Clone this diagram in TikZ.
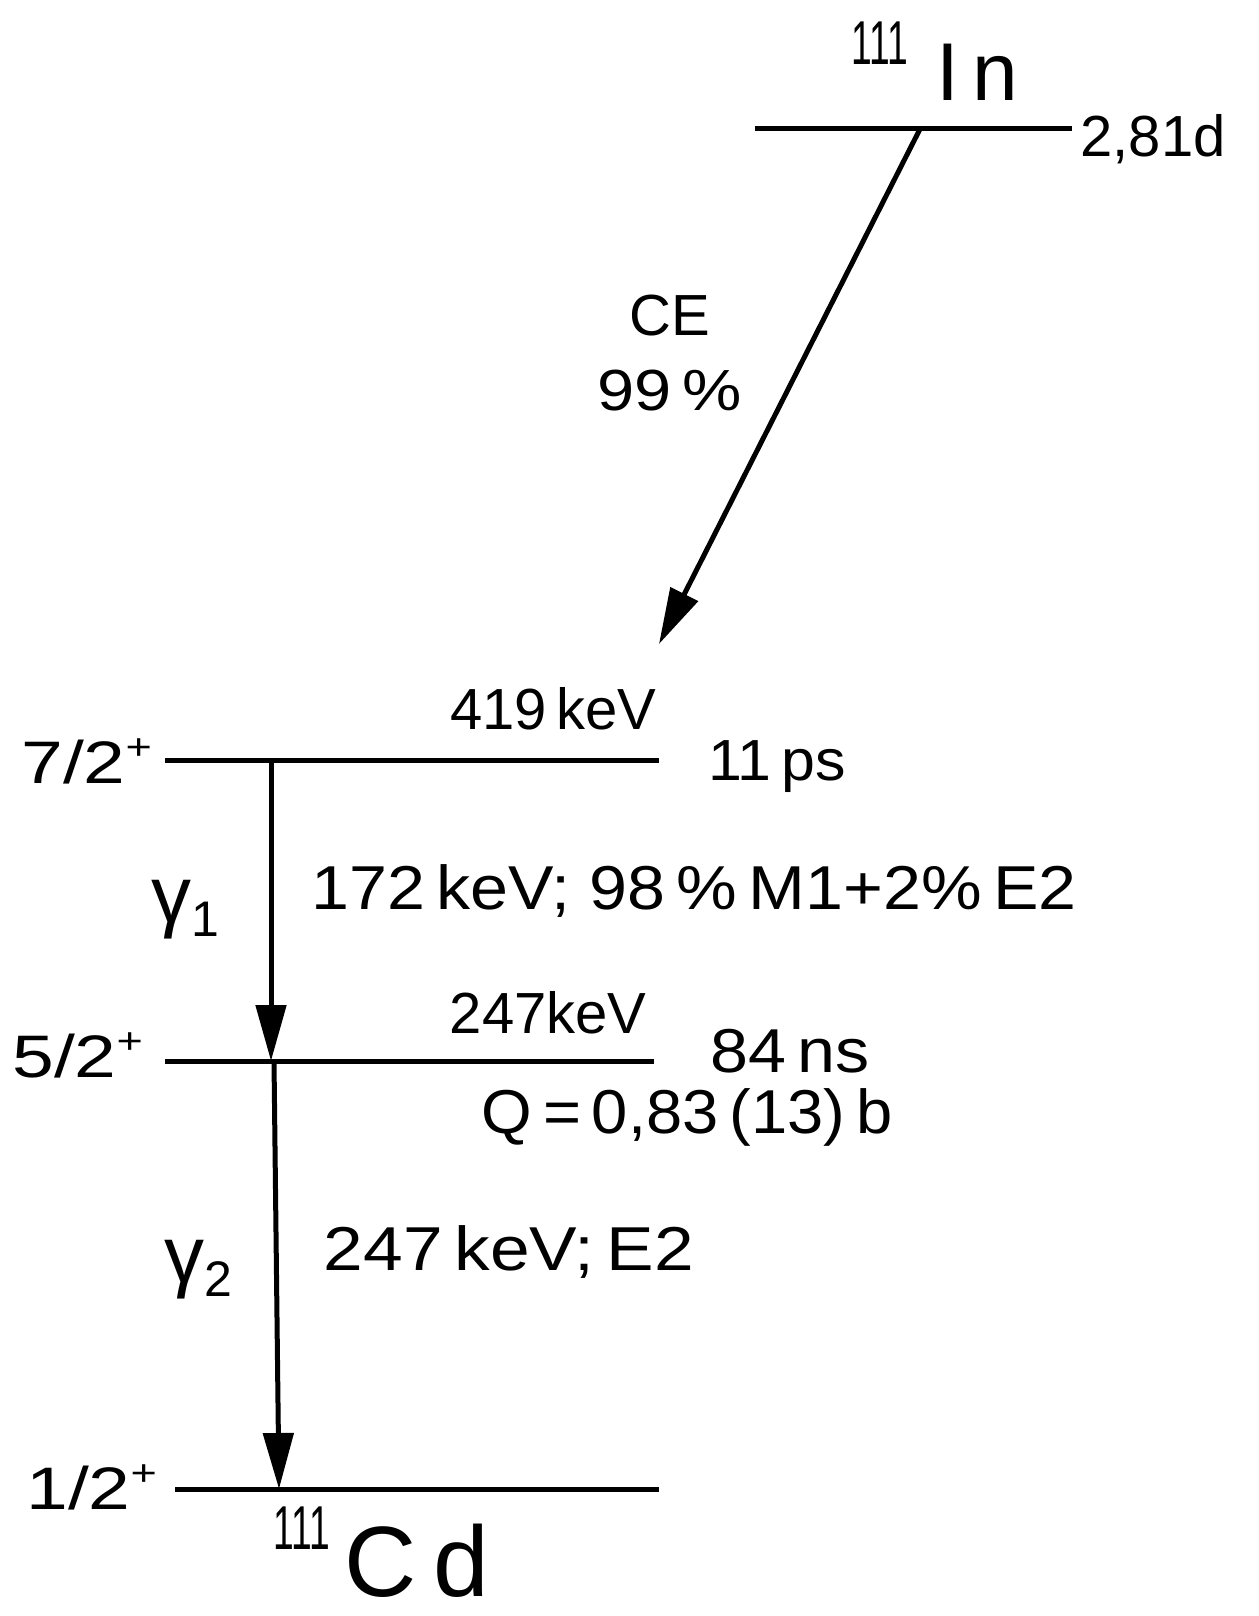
\documentclass[tikz,border=0pt]{standalone}
\usepackage{fontspec}
\setmainfont{Liberation Sans}
\usetikzlibrary{arrows.meta}
\begin{document}
\begin{tikzpicture}[x=1pt,y=-1pt,line width=5pt,>={Triangle[length=56pt,width=30pt]},
		txt/.style={inner sep=0pt,font=\fontsize{58}{60}\selectfont},
		bigtxt/.style={inner sep=0pt,font=\fontsize{62}{64}\selectfont},
		spin/.style={inner sep=0pt,font=\fontsize{60}{60}\selectfont,xscale=1.25},
		gam/.style={inner sep=0pt,font=\fontsize{80}{80}\selectfont},
		nucl/.style={inner sep=0pt,font=\fontsize{82}{82}\selectfont},
		mass/.style={inner sep=0pt,font=\fontsize{62}{62}\selectfont,xscale=0.6}]
	\useasboundingbox (0,0) rectangle (1258,1616);
	\path (755,129) coordinate (I1);
	\path (1072,129) coordinate (I2);
	\path (920,129) coordinate (CEs);
	\path (659,644) coordinate (CEe);
	\path (165,760) coordinate (L1a);
	\path (659,760) coordinate (L1b);
	\path (271,760) coordinate (G1s);
	\path (165,1061) coordinate (L2a);
	\path (654,1061) coordinate (L2b);
	\path (271,1061) coordinate (G1e);
	\path (274,1061) coordinate (G2s);
	\path (175,1489) coordinate (L3a);
	\path (659,1489) coordinate (L3b);
	\path (279,1489) coordinate (G2e);
	% levels
	\draw (I1) -- (I2);
	\draw (L1a) -- (L1b);
	\draw (L2a) -- (L2b);
	\draw (L3a) -- (L3b);
	% transitions
	\draw[->] (CEs) -- (CEe);
	\draw[->] (G1s) -- (G1e);
	\draw[->] (G2s) -- (G2e);
	% In
	\node[mass,anchor=base east] (aIn) at (910,65) {111};
	\node[nucl,anchor=base west] (In) at (934,101) {I\,n};
	\node[txt,anchor=base west] (tIn) at (1078,157) {2,81d};
	\node[txt,anchor=base] (CE) at (670,335) {CE};
	\node[txt,anchor=base,xscale=1.15] (pCE) at (670,410) {99\,\%};
	% 419 keV
	\node[spin,anchor=base east] (j1) at (155,783) {7/2\raisebox{24pt}{\fontsize{36}{36}\selectfont +}};
	\node[txt,anchor=base east] (e1) at (659,729) {419\,keV};
	\node[txt,anchor=base west,xscale=1.05] (t1) at (706,780) {11\,ps};
	\node[gam,anchor=base] (g1) at (185,922) {γ\raisebox{-14pt}{\fontsize{50}{50}\selectfont 1}};
	\node[bigtxt,anchor=base west,xscale=1.1] (m1) at (309,909) {172\,keV; 98\,\%\,M1+2\%\,E2};
	% 247 keV
	\node[spin,anchor=base east] (j2) at (146,1077) {5/2\raisebox{24pt}{\fontsize{36}{36}\selectfont +}};
	\node[txt,anchor=base east] (e2) at (649,1033) {247keV};
	\node[bigtxt,anchor=base west,xscale=1.1] (t2) at (708,1072) {84\,ns};
	\node[bigtxt,anchor=base west,xscale=1.05] (q2) at (479,1133) {Q\,=\,0,83\,(13)\,b};
	\node[gam,anchor=base] (g2) at (198,1282) {γ\raisebox{-14pt}{\fontsize{50}{50}\selectfont 2}};
	\node[bigtxt,anchor=base west,xscale=1.15] (m2) at (321,1270) {247\,keV;\,E2};
	% ground state
	\node[spin,anchor=base east] (j3) at (160,1509) {1/2\raisebox{24pt}{\fontsize{36}{36}\selectfont +}};
	\node[mass,anchor=base east] (aCd) at (332,1549) {111};
	\node[nucl,font=\fontsize{100}{100}\selectfont,anchor=base west] (Cd) at (342,1596) {C\,d};
\end{tikzpicture}
\end{document}
